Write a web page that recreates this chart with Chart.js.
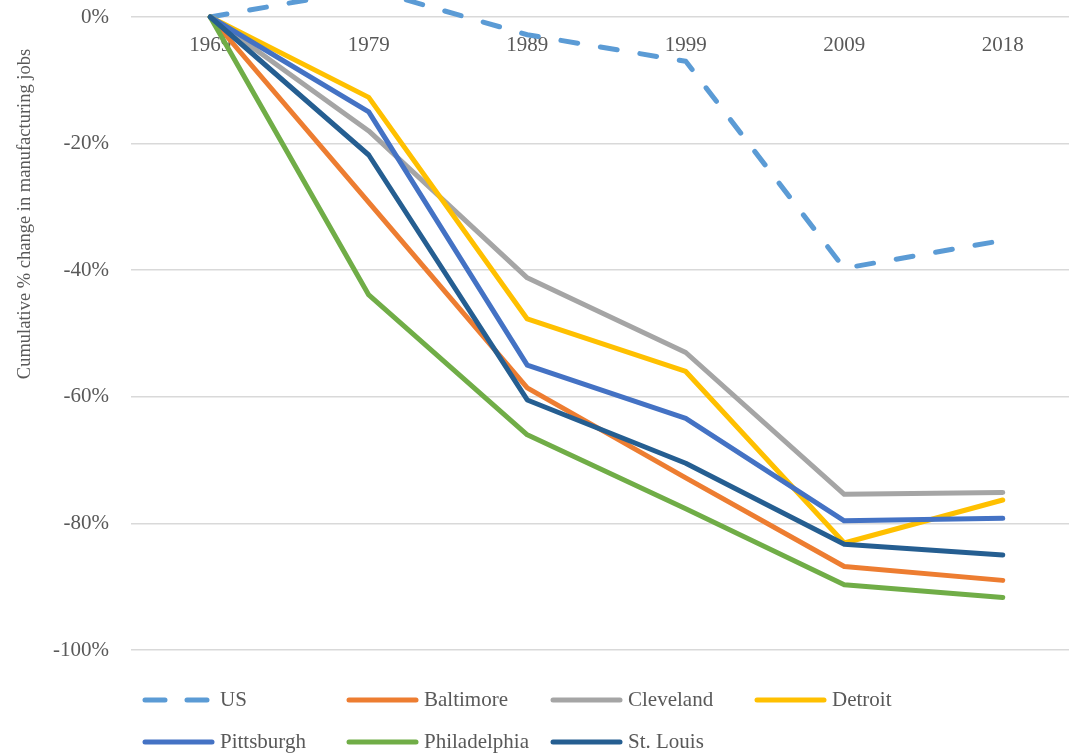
<!DOCTYPE html>
<html>
<head>
<meta charset="utf-8">
<title>Manufacturing jobs</title>
<script src="https://cdn.jsdelivr.net/npm/chart.js@4/dist/chart.umd.min.js"></script>
<style>
    body { margin: 0; background: #fff; overflow: hidden; }
    #chartDiv { width: 1090px; height: 755px; }
</style>
</head>
<body>
<div id="chartDiv"><canvas id="jobsChart"></canvas></div>
<script>
// cumulative % change in manufacturing jobs since 1969
const years = ['1969', '1979', '1989', '1999', '2009', '2018'];
const usJobs = [0, 4.4, -2.8, -7.0, -39.7, -35.3];
const baltimoreJobs = [0, -29.3, -58.6, -72.8, -86.8, -89.0];
const clevelandJobs = [0, -18.0, -41.2, -53.0, -75.4, -75.1];
const detroitJobs = [0, -12.7, -47.7, -56.0, -83.1, -76.3];
const pittsburghJobs = [0, -15.0, -55.0, -63.4, -79.6, -79.2];
const philadelphiaJobs = [0, -43.9, -66.0, -77.7, -89.7, -91.7];
const stLouisJobs = [0, -21.8, -60.5, -70.5, -83.3, -85.0];
const yTicks = [0, -20, -40, -60, -80, -100];

const textColor = '#595959';
const fontFamily = "'Liberation Serif', 'Times New Roman', serif";

function series(label, data, color, order) {
    return {
        label: label,
        data: data,
        borderColor: color,
        backgroundColor: color,
        borderWidth: 5,
        borderJoinStyle: 'round',
        borderCapStyle: 'round',
        pointRadius: 0,
        tension: 0,
        clip: false,
        order: order
    };
}

const datasets = [
    series('US', usJobs, '#5B9BD5', 7),
    series('Baltimore', baltimoreJobs, '#ED7D31', 6),
    series('Cleveland', clevelandJobs, '#A5A5A5', 5),
    series('Detroit', detroitJobs, '#FFC000', 4),
    series('Pittsburgh', pittsburghJobs, '#4472C4', 3),
    series('Philadelphia', philadelphiaJobs, '#70AD47', 2),
    series('St. Louis', stLouisJobs, '#255E91', 1)
];
datasets[0].borderDash = [17, 23];

// y axis title, sits in the upper part of the left margin
const yTitlePlugin = {
    id: 'yTitle',
    afterDraw(chart) {
        const ctx = chart.ctx;
        ctx.save();
        ctx.translate(25, 214);
        ctx.rotate(-Math.PI / 2);
        ctx.font = '18.5px ' + fontFamily;
        ctx.fillStyle = textColor;
        ctx.textAlign = 'center';
        ctx.textBaseline = 'middle';
        ctx.fillText('Cumulative % change in manufacturing jobs', 0, 0);
        ctx.restore();
    }
};

// legend in fixed columns, four per row
const gridLegendPlugin = {
    id: 'gridLegend',
    afterDraw(chart) {
        const ctx = chart.ctx;
        const colX = [143, 347, 551, 755];
        const rowY = [700, 742];
        chart.data.datasets.forEach((ds, i) => {
            const x = colX[i % 4];
            const y = rowY[Math.floor(i / 4)];
            ctx.save();
            ctx.strokeStyle = ds.borderColor;
            ctx.lineWidth = ds.borderWidth;
            ctx.lineCap = 'round';
            ctx.setLineDash(ds.borderDash ? [20, 22] : []);
            ctx.beginPath();
            ctx.moveTo(x + 2, y);
            ctx.lineTo(x + 69, y);
            ctx.stroke();
            ctx.setLineDash([]);
            ctx.font = '21px ' + fontFamily;
            ctx.fillStyle = textColor;
            ctx.textAlign = 'left';
            ctx.textBaseline = 'middle';
            ctx.fillText(ds.label, x + 77, y);
            ctx.restore();
        });
    }
};

var ctx = document.getElementById('jobsChart');

const jobsChart = new Chart(ctx, {
    type: 'line',
    data: {
        labels: years,
        datasets: datasets
    },
    options: {
        responsive: true,
        maintainAspectRatio: false,
        animation: false,
        layout: {
            padding: { top: 17, bottom: 105, left: 0, right: 8 }
        },
        plugins: {
            legend: { display: false },
            tooltip: { enabled: false }
        },
        scales: {
            x: {
                type: 'category',
                offset: true,
                position: { y: 0 },
                grid: { display: false, drawTicks: false },
                border: { display: false },
                ticks: {
                    color: textColor,
                    font: { family: fontFamily, size: 21 },
                    padding: 16,
                    maxRotation: 0,
                    autoSkip: false
                }
            },
            y: {
                min: -100,
                max: 0,
                afterFit(scale) {
                    scale.width = 131;
                },
                afterBuildTicks(scale) {
                    scale.ticks = yTicks.map(v => ({ value: v }));
                },
                grid: {
                    color: '#D9D9D9',
                    lineWidth: 1.5,
                    drawTicks: true,
                    tickLength: 22,
                    tickColor: 'rgba(0,0,0,0)'
                },
                border: { display: false },
                ticks: {
                    color: textColor,
                    font: { family: fontFamily, size: 21 },
                    padding: 0,
                    callback: v => v + '%'
                }
            }
        }
    },
    plugins: [yTitlePlugin, gridLegendPlugin]
});
</script>
</body>
</html>
